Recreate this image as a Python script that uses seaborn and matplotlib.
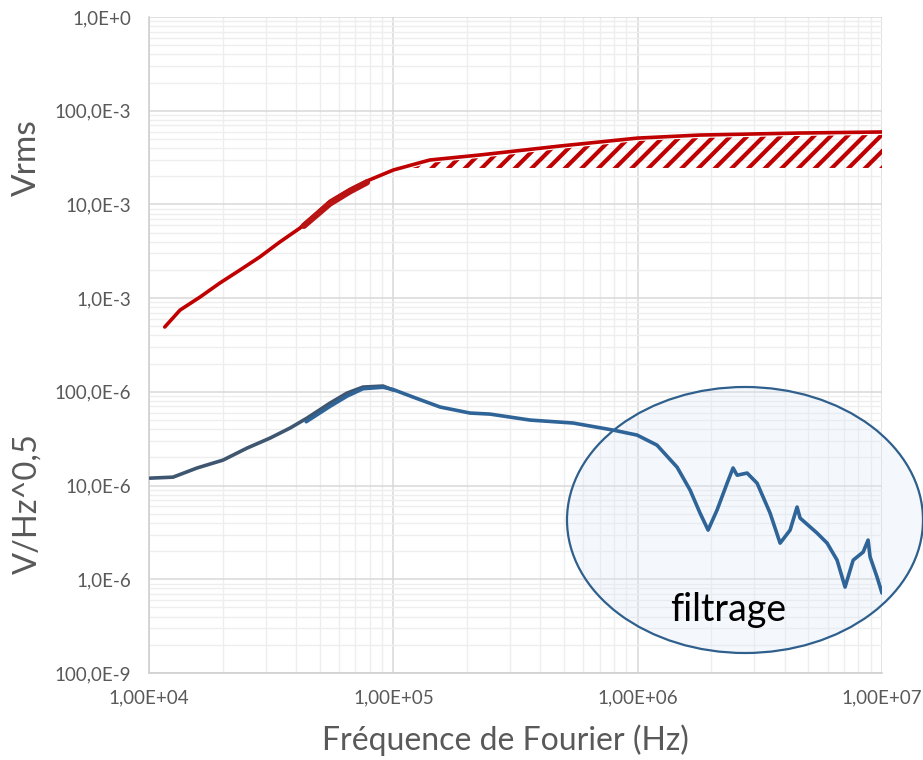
import numpy as np
import pandas as pd
import matplotlib
matplotlib.use("Agg")
import matplotlib.pyplot as plt
import matplotlib.ticker as mticker
from matplotlib.patches import Ellipse
import seaborn as sns

# ---------------- data ----------------
red_freq = [1.16e4, 1.34e4, 1.62e4, 1.95e4, 2.36e4, 2.84e4, 3.43e4, 4.15e4,
            5.5e4, 6.65e4, 7.8e4, 1.0e5, 1.41e5, 2.26e5, 4.81e5, 9.96e5,
            1.8e6, 4.62e6, 1.0e7]
red_vrms = [4.92e-4, 7.46e-4, 1.03e-3, 1.45e-3, 2.0e-3, 2.75e-3, 3.97e-3, 5.6e-3,
            1.08e-2, 1.45e-2, 1.78e-2, 2.33e-2, 2.98e-2, 3.37e-2, 4.2e-2, 5.1e-2,
            5.5e-2, 5.78e-2, 5.93e-2]

red_overlap_freq = [4.3e4, 5.5e4, 6.65e4, 7.8e4]
red_overlap_vrms = [5.9e-3, 1.02e-2, 1.38e-2, 1.72e-2]

hatch_low = 2.45e-2   # lower edge of hatched band (Vrms)

dark_freq = [1.01e4, 1.254e4, 1.572e4, 2.009e4, 2.518e4, 3.128e4, 3.778e4,
             4.434e4, 5.507e4, 6.465e4, 7.516e4, 9.076e4, 9.97e4]
dark_psd = [1.20e-5, 1.23e-5, 1.54e-5, 1.87e-5, 2.51e-5, 3.21e-5, 4.11e-5,
            5.25e-5, 7.59e-5, 9.71e-5, 1.125e-4, 1.153e-4, 1.045e-4]

blue_freq = [4.4e4, 5.507e4, 6.465e4, 7.516e4, 9.076e4, 9.97e4, 1.204e5, 1.553e5,
             2.061e5, 2.488e5, 3.627e5, 5.44e5, 7.93e5, 9.94e5, 1.2e6, 1.45e6,
             1.639e6, 1.80e6, 1.942e6, 2.113e6, 2.323e6, 2.457e6, 2.553e6,
             2.805e6, 3.082e6, 3.483e6, 3.828e6, 4.206e6, 4.492e6, 4.621e6,
             5.426e6, 5.963e6, 6.55e6, 7.06e6, 7.62e6, 8.37e6, 8.77e6, 8.94e6,
             9.55e6, 1.0e7]
blue_psd = [4.8e-5, 7.0e-5, 9.0e-5, 1.08e-4, 1.12e-4, 1.06e-4, 8.8e-5, 6.89e-5,
            5.94e-5, 5.79e-5, 5.0e-5, 4.65e-5, 3.91e-5, 3.46e-5, 2.70e-5, 1.57e-5,
            8.95e-6, 5.09e-6, 3.35e-6, 5.48e-6, 1.06e-5, 1.54e-5, 1.29e-5,
            1.36e-5, 1.06e-5, 5.09e-6, 2.43e-6, 3.35e-6, 5.90e-6, 4.50e-6,
            3.11e-6, 2.43e-6, 1.60e-6, 8.26e-7, 1.60e-6, 1.95e-6, 2.62e-6, 1.73e-6,
            1.05e-6, 7.13e-7]

ytick_vals = [1e-7, 1e-6, 1e-5, 1e-4, 1e-3, 1e-2, 1e-1, 1e0]
ytick_labels = ["100,0E-9", "1,0E-6", "10,0E-6", "100,0E-6",
                "1,0E-3", "10,0E-3", "100,0E-3", "1,0E+0"]
xtick_vals = [1e4, 1e5, 1e6, 1e7]
xtick_labels = ["1,00E+04", "1,00E+05", "1,00E+06", "1,00E+07"]

# ---------------- style ----------------
sns.set_style("white")
plt.rcParams['font.family'] = ['Lato', 'DejaVu Sans']
plt.rcParams['hatch.linewidth'] = 3.0
plt.rcParams['hatch.color'] = '#C00000'

W, H = 923, 760
fig = plt.figure(figsize=(W / 100, H / 100), dpi=100)
ax = fig.add_axes([149 / W, 1 - 673 / H, (882 - 149) / W, (673 - 17) / H])
ax.set_xscale('log')
ax.set_yscale('log')
ax.set_xlim(1e4, 1e7)
ax.set_ylim(1e-7, 1e0)

# grid
ax.set_axisbelow(True)
ax.xaxis.set_minor_locator(mticker.LogLocator(base=10, subs=np.arange(2, 10)))
ax.yaxis.set_minor_locator(mticker.LogLocator(base=10, subs=np.arange(2, 10)))
ax.grid(which='major', color='#D9D9D9', lw=1.1)
ax.grid(which='minor', color='#EEEEEE', lw=1.0)
ax.xaxis.set_minor_formatter(mticker.NullFormatter())
ax.yaxis.set_minor_formatter(mticker.NullFormatter())

ax.set_xticks(xtick_vals)
ax.set_xticklabels(xtick_labels)
ax.set_yticks(ytick_vals)
ax.set_yticklabels(ytick_labels)
ax.tick_params(which='both', length=0, labelsize=13.5, colors='#595959')
ax.tick_params(axis='x', pad=12)
ax.tick_params(axis='y', pad=13)

for s in ['top', 'right']:
    ax.spines[s].set_visible(False)
for s in ['left', 'bottom']:
    ax.spines[s].set_color('#D0D0D0')
    ax.spines[s].set_linewidth(1.2)

# ellipse (filtrage)
ell = Ellipse((745 / W, 1 - 520 / H), 356 / W, 266 / H, transform=fig.transFigure,
              facecolor=(0.86, 0.90, 0.96, 0.28), edgecolor='#2F5F8C', lw=1.6,
              zorder=1.2, clip_on=False)
ax.add_artist(ell)

# hatched band
rf = np.array(red_freq)
rv = np.array(red_vrms)
ax.fill_between(rf, np.full_like(rv, hatch_low), rv * 0.93, where=rv >= hatch_low,
                interpolate=True, facecolor='none', edgecolor='#C00000',
                hatch='//', linewidth=0, zorder=1.5)

# lines
df_red = pd.DataFrame({'f': red_freq, 'v': red_vrms})
df_red2 = pd.DataFrame({'f': red_overlap_freq, 'v': red_overlap_vrms})
df_dark = pd.DataFrame({'f': dark_freq, 'v': dark_psd})
df_blue = pd.DataFrame({'f': blue_freq, 'v': blue_psd})

sns.lineplot(data=df_red, x='f', y='v', ax=ax, color='#C00000', lw=2.6,
             estimator=None, sort=False, zorder=3)
sns.lineplot(data=df_red2, x='f', y='v', ax=ax, color='#B81414', lw=4.5,
             estimator=None, sort=False, zorder=3)
sns.lineplot(data=df_dark, x='f', y='v', ax=ax, color='#3F5670', lw=2.6,
             estimator=None, sort=False, zorder=3)
sns.lineplot(data=df_blue, x='f', y='v', ax=ax, color='#2E6497', lw=2.6,
             estimator=None, sort=False, zorder=3.1)

ax.set_xlabel('')
ax.set_ylabel('')

fig.text(27 / W, 1 - 158 / H, 'Vrms', rotation=90, ha='center', va='center',
         fontsize=24, color='#595959')
fig.text(27 / W, 1 - 504 / H, 'V/Hz^0,5', rotation=90, ha='center', va='center',
         fontsize=23.5, color='#595959')
fig.text(505 / W, 1 - 740 / H, 'Fréquence de Fourier (Hz)', ha='center', va='center',
         fontsize=23, color='#595959')
fig.text(728 / W, 1 - 610 / H, 'filtrage', ha='center', va='center',
         fontsize=27, color='black', zorder=5)

fig.savefig('out.png', dpi=100)
